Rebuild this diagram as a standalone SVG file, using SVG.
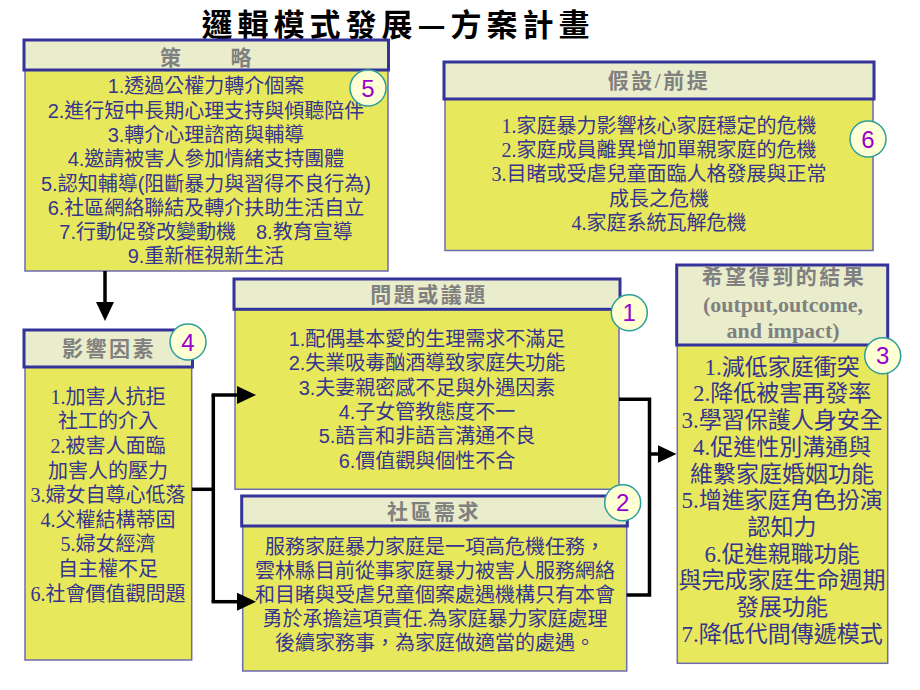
<svg xmlns="http://www.w3.org/2000/svg" width="920" height="690" viewBox="0 0 920 690">
<defs>
<style>
.hd{fill:#EAEDCC;stroke:#333399;stroke-width:3}
.bd{fill:#E8E85C;stroke:#6B6BB0;stroke-width:1.5}
.ht{font-family:"Liberation Serif","Noto Sans CJK TC",serif;font-weight:bold;font-size:21px;fill:#808080;text-anchor:middle;letter-spacing:2.5px}
.he{font-family:"Liberation Serif","Noto Sans CJK TC",serif;font-weight:bold;font-size:22px;fill:#808080;text-anchor:middle}
.ts{font-family:"Liberation Sans","Noto Sans CJK TC",sans-serif;font-size:20px;fill:#35358F;text-anchor:middle}
.tr{font-family:"Liberation Serif","Noto Sans CJK TC",serif;font-size:20px;fill:#35358F;text-anchor:middle}
.tr3{font-family:"Liberation Serif","Noto Sans CJK TC",serif;font-size:23px;fill:#35358F;text-anchor:middle}
.cc{fill:#FFFFD4;stroke:#2E9E9E;stroke-width:1.5}
.cn{font-family:"Liberation Sans",sans-serif;font-size:24px;fill:#9900CC;text-anchor:middle}
.cl{fill:none;stroke:#000;stroke-width:3.5;stroke-linejoin:miter}
</style>
<marker id="ah" markerUnits="userSpaceOnUse" markerWidth="20" markerHeight="18" refX="1" refY="9" orient="auto">
<path d="M0,0 L19,9 L0,18 z" fill="#000"/>
</marker>
</defs>
<rect width="920" height="690" fill="#fff"/>
<text x="398" y="35.5" font-family="'Noto Sans CJK TC',sans-serif" font-weight="bold" font-size="31" letter-spacing="5" text-anchor="middle" fill="#000">邏輯模式發展—方案計畫</text>

<g id="strategy">
<rect class="bd" x="25" y="55" width="363" height="216"/>
<rect class="hd" x="24" y="40" width="364.5" height="30"/>
<text class="ht" x="207" y="65" letter-spacing="0">策　　略</text>
<text class="ts" x="206" y="93.3">1.透過公權力轉介個案</text>
<text class="ts" x="206" y="117.6">2.進行短中長期心理支持與傾聽陪伴</text>
<text class="ts" x="206" y="141.9">3.轉介心理諮商與輔導</text>
<text class="ts" x="206" y="166.2">4.邀請被害人參加情緒支持團體</text>
<text class="ts" x="206" y="190.5">5.認知輔導(阻斷暴力與習得不良行為)</text>
<text class="ts" x="206" y="214.8">6.社區網絡聯結及轉介扶助生活自立</text>
<text class="ts" x="206" y="239.1">7.行動促發改變動機　8.教育宣導</text>
<text class="ts" x="206" y="263.4">9.重新框視新生活</text>
<circle class="cc" cx="368" cy="88" r="18"/>
<text class="cn" x="368" y="96.5">5</text>
</g>

<g id="assumption">
<rect class="bd" x="445" y="80" width="428" height="170.5"/>
<rect class="hd" x="444" y="62" width="430" height="37"/>
<text class="ht" x="659" y="88">假設/前提</text>
<text class="tr" x="659" y="132.5">1.家庭暴力影響核心家庭穩定的危機</text>
<text class="tr" x="659" y="156.9">2.家庭成員離異增加單親家庭的危機</text>
<text class="tr" x="659" y="181.3">3.目睹或受虐兒童面臨人格發展與正常</text>
<text class="tr" x="659" y="205.7">成長之危機</text>
<text class="tr" x="659" y="230.1">4.家庭系統瓦解危機</text>
<circle class="cc" cx="868" cy="139" r="18"/>
<text class="cn" x="868" y="147.5">6</text>
</g>

<g id="influence">
<rect class="bd" x="25" y="350" width="166.7" height="310"/>
<rect class="hd" x="24" y="330" width="168.5" height="37"/>
<text class="ht" x="109" y="356">影響因素</text>
<text class="tr" x="108" y="403.7">1.加害人抗拒</text>
<text class="tr" x="108" y="428.3">社工的介入</text>
<text class="tr" x="108" y="452.9">2.被害人面臨</text>
<text class="tr" x="108" y="477.5">加害人的壓力</text>
<text class="tr" x="108" y="502.1">3.婦女自尊心低落</text>
<text class="tr" x="108" y="526.7">4.父權結構蒂固</text>
<text class="tr" x="108" y="551.3">5.婦女經濟</text>
<text class="tr" x="108" y="575.9">自主權不足</text>
<text class="tr" x="108" y="600.5">6.社會價值觀問題</text>
<circle class="cc" cx="188" cy="342" r="18"/>
<text class="cn" x="188" y="350.5">4</text>
</g>

<g id="problems">
<rect class="bd" x="235" y="295" width="384" height="194.3"/>
<rect class="hd" x="234" y="279" width="386" height="30.3"/>
<text class="ht" x="429" y="301.5">問題或議題</text>
<text class="ts" x="427" y="346">1.配偶基本愛的生理需求不滿足</text>
<text class="ts" x="427" y="370.3">2.失業吸毒酗酒導致家庭失功能</text>
<text class="ts" x="427" y="394.6">3.夫妻親密感不足與外遇因素</text>
<text class="ts" x="427" y="418.9">4.子女管教態度不一</text>
<text class="ts" x="427" y="443.2">5.語言和非語言溝通不良</text>
<text class="ts" x="427" y="467.5">6.價值觀與個性不合</text>
<circle class="cc" cx="629.3" cy="312.7" r="18"/>
<text class="cn" x="629.3" y="321.2">1</text>
</g>

<g id="community">
<rect class="bd" x="242.7" y="510" width="384" height="161"/>
<rect class="hd" x="241.7" y="496" width="385.6" height="30"/>
<text class="ht" x="434" y="519">社區需求</text>
<text class="tr" x="435" y="553.5">服務家庭暴力家庭是一項高危機任務，</text>
<text class="tr" x="435" y="577.7">雲林縣目前從事家庭暴力被害人服務網絡</text>
<text class="tr" x="435" y="601.9">和目睹與受虐兒童個案處遇機構只有本會</text>
<text class="tr" x="435" y="626.1">勇於承擔這項責任.為家庭暴力家庭處理</text>
<text class="tr" x="435" y="650.3">後續家務事，為家庭做適當的處遇。</text>
<circle class="cc" cx="622.7" cy="502.7" r="18"/>
<text class="cn" x="622.7" y="511.2">2</text>
</g>

<g id="results">
<rect class="bd" x="677.3" y="320" width="210.4" height="343.3"/>
<rect class="hd" x="676.7" y="265" width="211" height="80"/>
<text class="ht" x="784" y="284">希望得到的結果</text>
<text class="he" x="783" y="312">(output,outcome,</text>
<text class="he" x="783" y="338">and impact)</text>
<text class="tr3" x="782" y="374.7">1.減低家庭衝突</text>
<text class="tr3" x="782" y="401.4">2.降低被害再發率</text>
<text class="tr3" x="782" y="428.1">3.學習保護人身安全</text>
<text class="tr3" x="782" y="454.8">4.促進性別溝通與</text>
<text class="tr3" x="782" y="481.5">維繫家庭婚姻功能</text>
<text class="tr3" x="782" y="508.2">5.增進家庭角色扮演</text>
<text class="tr3" x="782" y="534.9">認知力</text>
<text class="tr3" x="782" y="561.6">6.促進親職功能</text>
<text class="tr3" x="782" y="588.3">與完成家庭生命週期</text>
<text class="tr3" x="782" y="615">發展功能</text>
<text class="tr3" x="782" y="641.7">7.降低代間傳遞模式</text>
<circle class="cc" cx="882.7" cy="355.7" r="18"/>
<text class="cn" x="882.7" y="364.2">3</text>
</g>

<g id="connectors">
<path class="cl" d="M105,271 V303" marker-end="url(#ah)"/>
<path class="cl" d="M192,489.3 H213.3"/>
<path class="cl" d="M213.3,395 V601.7"/>
<path class="cl" d="M211.6,395 H238" marker-end="url(#ah)"/>
<path class="cl" d="M211.6,601.7 H238" marker-end="url(#ah)"/>
<path class="cl" d="M619,399.3 H649.5 V595 H626.7"/>
<path class="cl" d="M649.5,454 H658.5" marker-end="url(#ah)"/>
</g>
</svg>
